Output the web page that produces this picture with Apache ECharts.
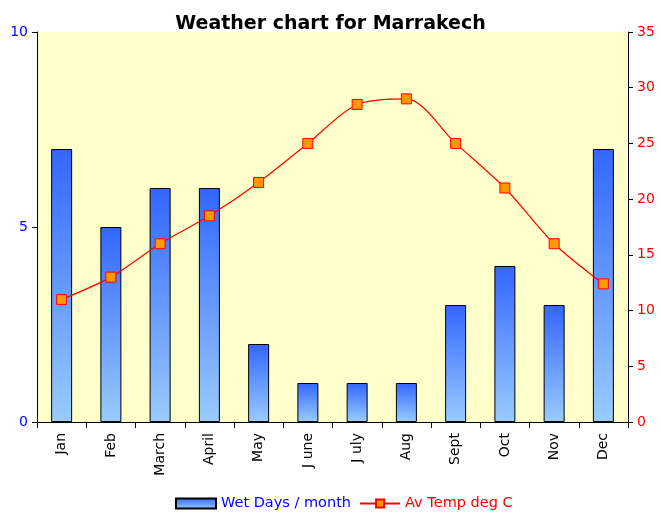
<!DOCTYPE html>
<html><head><meta charset="utf-8">
<script src="https://cdn.jsdelivr.net/npm/echarts@6/dist/echarts.min.js"></script>
<style>html,body{margin:0;padding:0;background:#fff}#c{width:661px;height:515px}</style>
</head><body><div id="c"></div>
<script>
var months = ['Jan','Feb','March','April','May','J une','J uly','Aug','Sept','Oct','Nov','Dec'];
var wetDays = [7,5,6,6,2,1,1,1,3,4,3,7];
var avTemp = [11,13,16,18.5,21.5,25,28.5,29,25,21,16,12.4];
var leftTicks = [0,5,10];
var rightTicks = [0,5,10,15,20,25,30,35];

var font = 'DejaVu Sans';
var chart = echarts.init(document.getElementById('c'));
chart.setOption({
  animation:false,
  textStyle:{fontFamily:font},
  title:{text:'Weather chart for Marrakech',left:'center',top:10,
    textStyle:{fontFamily:font,fontSize:19,fontWeight:'bold',color:'#000'}},
  legend:{bottom:-1,left:170,itemGap:8,itemWidth:40,itemHeight:10,
    textStyle:{fontFamily:font,fontSize:14.5},
    data:[{name:'Wet Days / month',icon:'rect',textStyle:{color:'#0000ff'}},
          {name:'Av Temp deg C',textStyle:{color:'#ff0000'}}]},
  grid:{left:37,right:33,top:32,bottom:93,show:true,backgroundColor:'#ffffcc',borderWidth:0},
  xAxis:{type:'category',data:months,boundaryGap:true,
    axisLine:{lineStyle:{color:'#000'}},
    axisTick:{show:true,alignWithLabel:false,length:6,lineStyle:{color:'#000'}},
    axisLabel:{rotate:90,color:'#000',fontSize:14,fontFamily:font,margin:11,interval:0}},
  yAxis:[
    {type:'value',min:0,max:10,interval:5,position:'left',
     axisLine:{show:true,lineStyle:{color:'#000'}},
     axisTick:{show:true,length:5,lineStyle:{color:'#000'}},
     splitLine:{show:false},
     axisLabel:{color:'#0000ff',fontSize:14,fontFamily:font,margin:9}},
    {type:'value',min:0,max:35,interval:5,position:'right',
     axisLine:{show:true,lineStyle:{color:'#000'}},
     axisTick:{show:true,length:5,lineStyle:{color:'#000'}},
     splitLine:{show:false},
     axisLabel:{color:'#ff0000',fontSize:14,fontFamily:font,margin:9}}
  ],
  series:[
    {name:'Wet Days / month',type:'bar',yAxisIndex:0,data:wetDays,barWidth:21,
     itemStyle:{borderColor:'#000',borderWidth:1,
       color:new echarts.graphic.LinearGradient(0,0,0,1,[{offset:0,color:'#3366ff'},{offset:1,color:'#99ccff'}])}},
    {name:'Av Temp deg C',type:'line',yAxisIndex:1,data:avTemp,smooth:0.3,
     symbol:'rect',symbolSize:10,
     lineStyle:{color:'#ff0000',width:1.2},
     itemStyle:{color:'#ff9900',borderColor:'#ff0000',borderWidth:1}}
  ]
});
</script></body></html>
